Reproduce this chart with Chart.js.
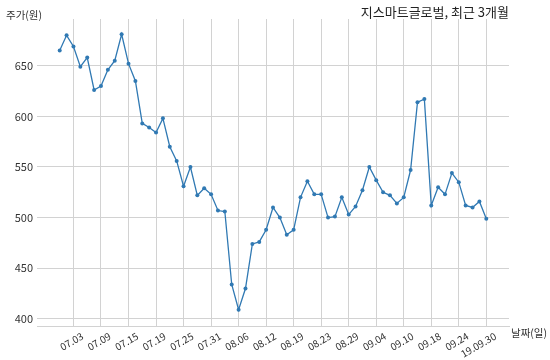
<!DOCTYPE html>
<html>
<head>
<meta charset="utf-8">
<script src="https://cdn.jsdelivr.net/npm/chart.js@4/dist/chart.umd.min.js"></script>
<style>
  html, body { margin: 0; padding: 0; background: #fff; }
  #wrap { width: 550px; height: 360px; }
</style>
</head>
<body>
<div id="wrap"><canvas id="chart" width="550" height="360"></canvas></div>
<script>
const title = "지스마트글로벌, 최근 3개월";
const yTitle = "주가(원)";
const xTitle = "날짜(일)";

// trading days, Jul - Sep 2019
const dates = [
  "07.01", "07.02", "07.03", "07.04", "07.05", "07.08", "07.09", "07.10", "07.11", "07.12",
  "07.15", "07.16", "07.17", "07.18", "07.19", "07.22", "07.23", "07.24", "07.25", "07.26",
  "07.29", "07.30", "07.31", "08.01", "08.02", "08.05", "08.06", "08.07", "08.08", "08.09",
  "08.12", "08.13", "08.14", "08.16", "08.19", "08.20", "08.21", "08.22", "08.23", "08.26",
  "08.27", "08.28", "08.29", "08.30", "09.02", "09.03", "09.04", "09.05", "09.06", "09.09",
  "09.10", "09.11", "09.16", "09.17", "09.18", "09.19", "09.20", "09.23", "09.24", "09.25",
  "09.26", "09.27", "09.30"
];

const prices = [
  665, 680, 669, 649, 658, 626, 630, 646, 655, 681,
  652, 635, 593, 589, 584, 598, 570, 556, 531, 550,
  522, 529, 523, 507, 506, 434, 409, 430, 474, 476,
  488, 510, 500, 483, 488, 520, 536, 523, 523, 500,
  501, 520, 503, 511, 527, 550, 537, 525, 522, 514,
  520, 547, 614, 617, 512, 530, 523, 544, 535, 512,
  510, 516, 499
];

const tickDates = ["07.03", "07.09", "07.15", "07.19", "07.25", "07.31", "08.06", "08.12",
  "08.19", "08.23", "08.29", "09.04", "09.10", "09.18", "09.24", "09.30"];
const tickLabels = ["07.03", "07.09", "07.15", "07.19", "07.25", "07.31", "08.06", "08.12",
  "08.19", "08.23", "08.29", "09.04", "09.10", "09.18", "09.24", "19.09.30"];
const yTicks = [400, 450, 500, 550, 600, 650];

const tickIdx = tickDates.map((d) => dates.indexOf(d));
const FONT = "'Noto Sans CJK KR', 'Noto Sans', sans-serif";

const textPlugin = {
  id: "texts",
  afterDraw(chart) {
    const ctx = chart.ctx;
    ctx.save();
    ctx.fillStyle = "#222";
    ctx.textBaseline = "middle";
    ctx.font = "13px " + FONT;
    ctx.textAlign = "right";
    ctx.fillText(title, 509, 12);
    ctx.font = "10.5px " + FONT;
    ctx.textAlign = "left";
    ctx.fillStyle = "#333";
    ctx.fillText(yTitle, 6, 15);
    ctx.fillText(xTitle, 511, 333);
    ctx.restore();
  },
};

new Chart(document.getElementById("chart"), {
  type: "line",
  data: {
    datasets: [
      {
        data: prices.map((p, i) => ({ x: i, y: p })),
        borderColor: "#3079b3",
        backgroundColor: "#3079b3",
        borderWidth: 1.3,
        pointRadius: 2,
        pointBorderWidth: 0,
        tension: 0,
      },
    ],
  },
  options: {
    responsive: false,
    animation: false,
    layout: { padding: { top: 19, right: 41, left: 0, bottom: 0 } },
    plugins: { legend: { display: false }, tooltip: { enabled: false } },
    scales: {
      x: {
        type: "linear",
        min: -3.3,
        max: 65.3,
        afterBuildTicks: (s) => {
          s.ticks = tickIdx.map((v) => ({ value: v }));
        },
        afterFit: (s) => {
          s.height = 34;
        },
        grid: { color: "#d2d2d2", drawTicks: false },
        border: { display: true, color: "#d2d2d2" },
        ticks: {
          autoSkip: false,
          minRotation: 30,
          maxRotation: 30,
          labelOffset: 9,
          padding: 4,
          color: "#333",
          font: { size: 10, family: FONT },
          callback: (v) => tickLabels[tickIdx.indexOf(v)],
        },
      },
      y: {
        min: 393,
        max: 696.1,
        afterBuildTicks: (s) => {
          s.ticks = yTicks.map((v) => ({ value: v }));
        },
        afterFit: (s) => {
          s.width = 37;
        },
        grid: { color: "#d2d2d2", drawTicks: false },
        border: { display: false },
        ticks: {
          padding: 4,
          color: "#333",
          font: { size: 11, family: FONT },
        },
      },
    },
  },
  plugins: [textPlugin],
});
</script>
</body>
</html>
